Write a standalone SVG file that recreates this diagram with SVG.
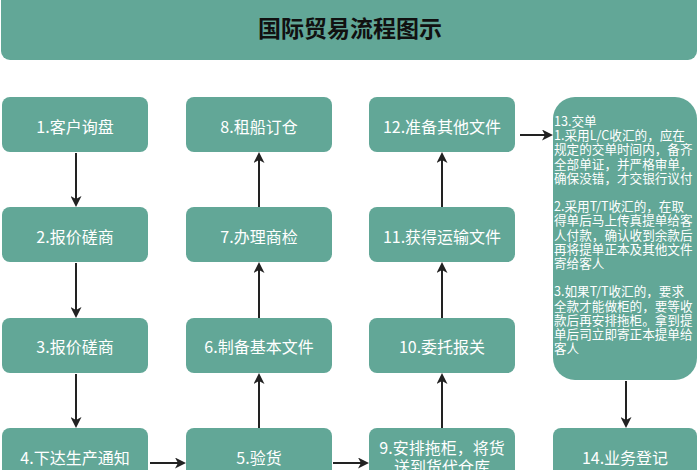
<svg xmlns="http://www.w3.org/2000/svg" width="700" height="470" viewBox="0 0 700 470">
<defs>
<style>
.box{fill:#62a797;}
.lbl{fill:#ffffff;font-family:"Noto Sans CJK SC","Noto Sans",sans-serif;font-size:16px;text-anchor:middle;dominant-baseline:central;}
.note{fill:#ffffff;font-family:"Noto Sans CJK SC","Noto Sans",sans-serif;font-size:12.6px;}
.title{fill:#111111;font-family:"Noto Sans CJK SC","Noto Sans",sans-serif;font-size:23px;font-weight:bold;text-anchor:middle;dominant-baseline:central;}
.conn line{stroke:#222222;stroke-width:2;fill:none;marker-end:url(#arr);}
</style>
<marker id="arr" markerUnits="userSpaceOnUse" markerWidth="12" markerHeight="11" refX="3" refY="5.5" orient="auto" viewBox="0 0 12 11">
<path d="M0,0 L11,5.5 L0,11 L3,5.5 z" fill="#222222"/>
</marker>
</defs>
<rect width="700" height="470" fill="#ffffff"/>
<g id="title">
<rect class="box" x="1" y="-12" width="696" height="72" rx="9"/>
<text class="title" x="350" y="27">国际贸易流程图示</text>
</g>
<g id="n1"><rect class="box" x="2" y="97" width="146" height="55" rx="8"/><text class="lbl" x="75" y="125.5">1.客户询盘</text></g>
<g id="n2"><rect class="box" x="2" y="207" width="146" height="55" rx="8"/><text class="lbl" x="75" y="235.5">2.报价磋商</text></g>
<g id="n3"><rect class="box" x="2" y="318" width="146" height="55" rx="8"/><text class="lbl" x="75" y="346">3.报价磋商</text></g>
<g id="n4"><rect class="box" x="2" y="428" width="146" height="55" rx="8"/><text class="lbl" x="75" y="457">4.下达生产通知</text></g>
<g id="n5"><rect class="box" x="186" y="428" width="146" height="55" rx="8"/><text class="lbl" x="259" y="457">5.验货</text></g>
<g id="n6"><rect class="box" x="186" y="318" width="146" height="55" rx="8"/><text class="lbl" x="259" y="346">6.制备基本文件</text></g>
<g id="n7"><rect class="box" x="186" y="207" width="146" height="55" rx="8"/><text class="lbl" x="259" y="235.5">7.办理商检</text></g>
<g id="n8"><rect class="box" x="186" y="97" width="146" height="55" rx="8"/><text class="lbl" x="259" y="125.5">8.租船订仓</text></g>
<g id="n9"><rect class="box" x="369" y="428" width="146" height="55" rx="8"/><text class="lbl" x="442" y="447">9.安排拖柜，将货</text><text class="lbl" x="442" y="466">送到货代仓库</text></g>
<g id="n10"><rect class="box" x="369" y="318" width="146" height="55" rx="8"/><text class="lbl" x="442" y="346">10.委托报关</text></g>
<g id="n11"><rect class="box" x="369" y="207" width="146" height="55" rx="8"/><text class="lbl" x="442" y="235.5">11.获得运输文件</text></g>
<g id="n12"><rect class="box" x="369" y="97" width="146" height="55" rx="8"/><text class="lbl" x="442" y="125.5">12.准备其他文件</text></g>
<g id="n13"><rect class="box" x="553" y="97" width="144" height="283" rx="22"/>
<text class="note" x="554" y="126">
<tspan x="554" y="126">13.交单</tspan>
<tspan x="554" y="140.2">1.采用L/C收汇的，应在</tspan>
<tspan x="554" y="154.4">规定的交单时间内，备齐</tspan>
<tspan x="554" y="168.6">全部单证，并严格审单，</tspan>
<tspan x="554" y="182.8">确保没错，才交银行议付</tspan>
<tspan x="554" y="211.2">2.采用T/T收汇的，在取</tspan>
<tspan x="554" y="225.4">得单后马上传真提单给客</tspan>
<tspan x="554" y="239.6">人付款，确认收到余款后</tspan>
<tspan x="554" y="253.8">再将提单正本及其他文件</tspan>
<tspan x="554" y="268">寄给客人</tspan>
<tspan x="554" y="296.4">3.如果T/T收汇的，要求</tspan>
<tspan x="554" y="310.6">全款才能做柜的，要等收</tspan>
<tspan x="554" y="324.8">款后再安排拖柜。拿到提</tspan>
<tspan x="554" y="339">单后司立即寄正本提单给</tspan>
<tspan x="554" y="353.2">客人</tspan>
</text></g>
<g id="n14"><rect class="box" x="553" y="428" width="144" height="55" rx="8"/><text class="lbl" x="625" y="457">14.业务登记</text></g>
<g id="connectors" class="conn">
<line x1="76" y1="153" x2="76" y2="199"/>
<line x1="76" y1="263" x2="76" y2="310"/>
<line x1="76" y1="374" x2="76" y2="420"/>
<line x1="150" y1="463" x2="178" y2="463"/>
<line x1="259" y1="428" x2="259" y2="381"/>
<line x1="259" y1="318" x2="259" y2="270"/>
<line x1="259" y1="207" x2="259" y2="160"/>
<line x1="333" y1="463" x2="361" y2="463"/>
<line x1="442" y1="428" x2="442" y2="381"/>
<line x1="442" y1="318" x2="442" y2="270"/>
<line x1="442" y1="207" x2="442" y2="160"/>
<line x1="520" y1="135" x2="545" y2="135"/>
<line x1="626" y1="381" x2="626" y2="420"/>
</g>
</svg>
